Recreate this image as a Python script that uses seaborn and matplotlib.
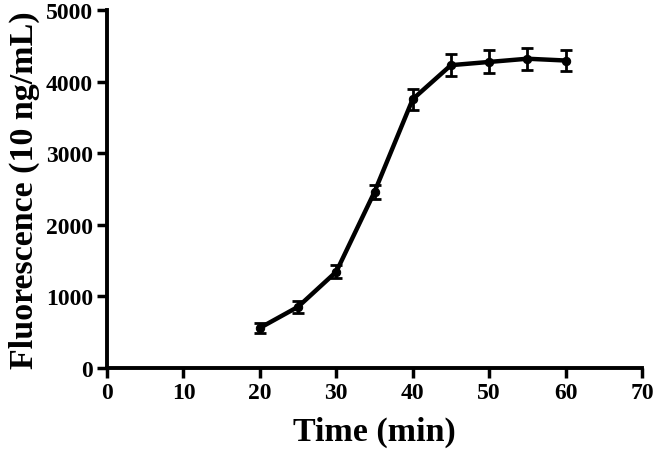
import seaborn as sns
import matplotlib.pyplot as plt
import pandas as pd

# values
time_min = [20, 25, 30, 35, 40, 45, 50, 55, 60]
fluorescence = [560, 855, 1345, 2460, 3755, 4230, 4275, 4320, 4295]
fluorescence_err = [70, 80, 90, 100, 145, 150, 160, 155, 150]

x_ticks = [0, 10, 20, 30, 40, 50, 60, 70]
y_ticks = [0, 1000, 2000, 3000, 4000, 5000]

FONT_SIZE = 17
LABEL_SIZE = 24.5

sns.set_style("ticks")
plt.rcParams["font.family"] = ["Liberation Serif", "DejaVu Serif"]
plt.rcParams["font.weight"] = "bold"
plt.rcParams["axes.labelweight"] = "bold"
plt.rcParams["text.color"] = "black"
plt.rcParams["axes.labelcolor"] = "black"
plt.rcParams["xtick.color"] = "black"
plt.rcParams["ytick.color"] = "black"
plt.rcParams["axes.edgecolor"] = "black"

df = pd.DataFrame({"time": time_min, "fluor": fluorescence, "err": fluorescence_err})

fig = plt.figure(figsize=(6.57, 4.6), dpi=100)
ax = fig.add_axes([0.1629, 0.1978, 0.8143, 0.7782])

sns.lineplot(data=df, x="time", y="fluor", color="black", linewidth=3.2,
             marker="o", markersize=6, markeredgecolor="black", ax=ax)
ax.errorbar(df["time"], df["fluor"], yerr=df["err"], fmt="none", ecolor="black",
            elinewidth=2, capsize=4, capthick=2)

ax.set_xlim(0, 70)
ax.set_ylim(0, 5000)
ax.set_xticks(x_ticks)
ax.set_yticks(y_ticks)
ax.tick_params(axis="both", direction="out", length=7, width=2.5, labelsize=FONT_SIZE, pad=3)
for lbl in ax.get_xticklabels() + ax.get_yticklabels():
    lbl.set_fontweight("bold")

for side in ["top", "right"]:
    ax.spines[side].set_visible(False)
for side in ["left", "bottom"]:
    ax.spines[side].set_linewidth(2.8)

ax.set_xlabel("Time (min)", fontsize=LABEL_SIZE, fontweight="bold", labelpad=9)
ax.set_ylabel("Fluorescence (10 ng/mL)", fontsize=LABEL_SIZE, fontweight="bold", labelpad=4)

fig.savefig("out.png", dpi=100)
